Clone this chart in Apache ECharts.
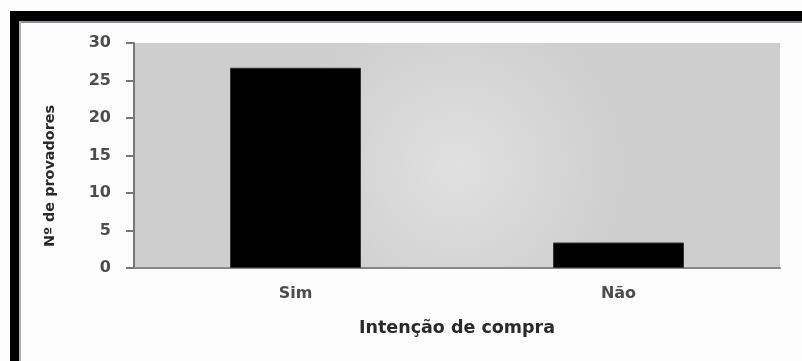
<!DOCTYPE html>
<html>
<head>
<meta charset="utf-8">
<script src="https://cdn.jsdelivr.net/npm/echarts@6/dist/echarts.min.js"></script>
<style>
    html, body { margin: 0; padding: 0; background: #fff; }
    #chart { width: 802px; height: 361px; }
</style>
</head>
<body>
<div id="chart"></div>
<script>
// 数据
var categories = ['Sim', 'Não'];
var provadores = [26.7, 3.4];
var yTicks = { min: 0, max: 30, interval: 5 };

window.onload = function () {
    initChart();
};

function initChart() {
    var chart = echarts.init(document.getElementById('chart'));
    var fontName = '"DejaVu Sans", sans-serif';
    chart.setOption({
        animation: false,
        backgroundColor: '#fdfdfd',
        grid: {
            left: 134, right: 22, top: 43, bottom: 93,
            show: true,
            borderWidth: 0,
            backgroundColor: {
                type: 'radial', x: 0.5, y: 0.55, r: 0.75,
                colorStops: [
                    { offset: 0, color: '#e0e0e0' },
                    { offset: 1, color: '#cecece' }
                ]
            }
        },
        xAxis: {
            type: 'category',
            data: categories,
            name: 'Intenção de compra',
            nameLocation: 'middle',
            nameGap: 51,
            nameTextStyle: { color: '#2a2a2a', fontSize: 17.5, fontWeight: 'bold', fontFamily: fontName },
            axisLine: { lineStyle: { color: '#888', width: 2 } },
            axisTick: { show: false },
            axisLabel: { color: '#4d4d4d', fontSize: 16, fontWeight: 'bold', fontFamily: fontName, margin: 18 }
        },
        yAxis: {
            type: 'value',
            min: yTicks.min,
            max: yTicks.max,
            interval: yTicks.interval,
            axisLine: { show: true, lineStyle: { color: '#777', width: 2 } },
            axisTick: { show: true, length: 8, lineStyle: { color: '#777', width: 2 } },
            splitLine: { show: false },
            axisLabel: { color: '#4d4d4d', fontSize: 16, fontWeight: 'bold', fontFamily: fontName, margin: 23 }
        },
        series: [{
            type: 'bar',
            data: provadores,
            barWidth: 131,
            itemStyle: { color: '#000', borderColor: '#333', borderWidth: 1 }
        }],
        graphic: [
            // 边框
            { type: 'rect', shape: { x: 10, y: 11, width: 792, height: 10 }, style: { fill: '#000' } },
            { type: 'rect', shape: { x: 10, y: 11, width: 9, height: 350 }, style: { fill: '#000' } },
            { type: 'rect', shape: { x: 19, y: 21, width: 783, height: 2 }, style: { fill: '#8a9096' } },
            { type: 'rect', shape: { x: 19, y: 21, width: 2, height: 340 }, style: { fill: '#b0b0b0' } },
            {
                type: 'text',
                x: 50, y: 176,
                rotation: Math.PI / 2,
                style: {
                    text: 'Nº de provadores',
                    fill: '#2a2a2a',
                    font: 'bold 14.4px ' + fontName,
                    align: 'center',
                    verticalAlign: 'middle'
                }
            }
        ]
    });
}
</script>
</body>
</html>
